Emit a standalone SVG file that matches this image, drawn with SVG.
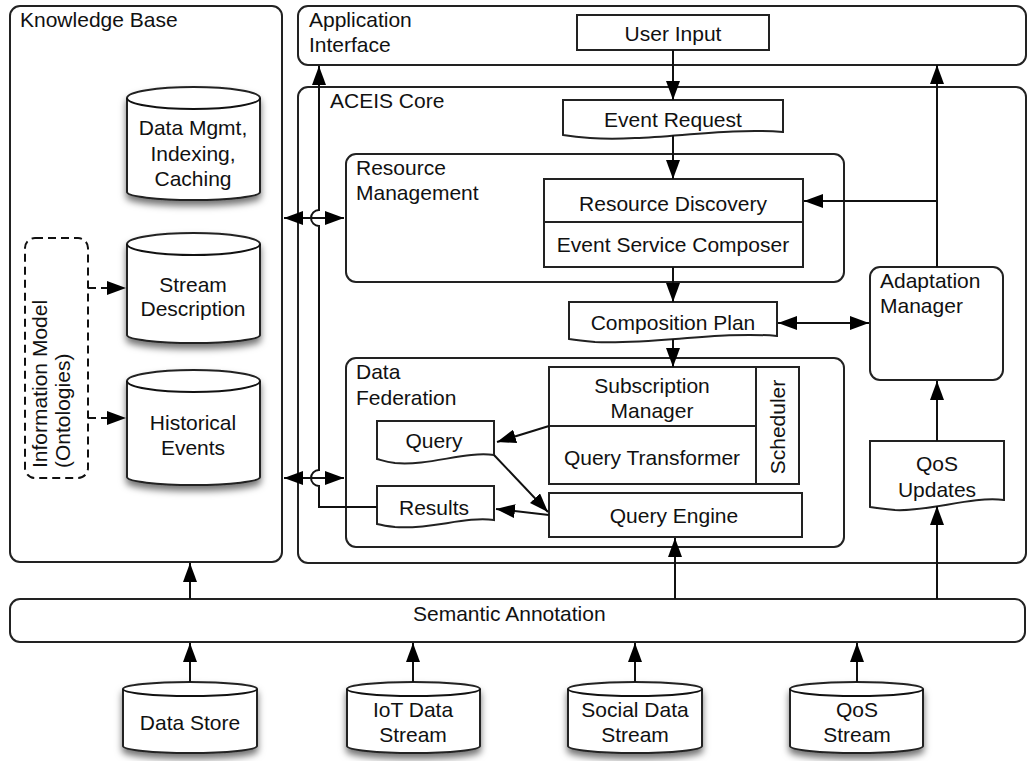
<svg xmlns="http://www.w3.org/2000/svg" width="1028" height="761" viewBox="0 0 1028 761">
<defs>
<marker id="ah" viewBox="0 0 19 14" refX="19" refY="7" markerWidth="19" markerHeight="14" markerUnits="userSpaceOnUse" orient="auto-start-reverse"><path d="M0,0 L19,7 L0,14 z" fill="#000"/></marker>
<filter id="sh" x="-20%" y="-20%" width="140%" height="150%"><feDropShadow dx="0" dy="5" stdDeviation="3.5" flood-color="#000" flood-opacity="0.55"/></filter>
</defs>
<style>
.b{fill:#fff;stroke:#222;stroke-width:2}
.c{fill:none;stroke:#111;stroke-width:2}
.a{marker-end:url(#ah)}
.d{marker-start:url(#ah);marker-end:url(#ah)}
.dash{fill:none;stroke:#111;stroke-width:2;stroke-dasharray:8 5}
text{font-family:"Liberation Sans",Arial,Helvetica,sans-serif;font-size:21px;fill:#111}
.m{text-anchor:middle}
</style>
<g id="knowledge-base">
<rect class="b" x="10" y="6" width="272" height="556" rx="10"/>
<text x="20" y="27">Knowledge Base</text>
</g>
<g id="application-interface">
<rect class="b" x="298" y="6" width="728" height="59" rx="10"/>
<text x="309" y="27">Application</text>
<text x="309" y="52">Interface</text>
</g>
<g id="aceis-core">
<rect class="b" x="298" y="87" width="728" height="476" rx="10"/>
<text x="330" y="108">ACEIS Core</text>
</g>
<g id="resource-management">
<rect class="b" x="346" y="154" width="498" height="128" rx="10"/>
<text x="356" y="175">Resource</text>
<text x="356" y="200">Management</text>
</g>
<g id="data-federation">
<rect class="b" x="346" y="358" width="498" height="189" rx="10"/>
<text x="356" y="379">Data</text>
<text x="356" y="405">Federation</text>
</g>
<g id="semantic-annotation">
<rect class="b" x="10" y="599" width="1015" height="43" rx="10"/>
<text x="413" y="621">Semantic Annotation</text>
</g>
<g id="user-input">
<rect class="b" x="577" y="15" width="192" height="35"/>
<text class="m" x="673" y="41">User Input</text>
</g>
<g id="event-request">
<path class="b" d="M563,100 H783 V132 C720,127 650,142 590,138 C578,137 570,136 563,135 Z"/>
<text class="m" x="673" y="127">Event Request</text>
</g>
<g id="resource-discovery">
<rect class="b" x="544" y="179" width="259" height="43"/>
<text class="m" x="673" y="211">Resource Discovery</text>
</g>
<g id="event-service-composer">
<rect class="b" x="544" y="222" width="259" height="45"/>
<text class="m" x="673" y="252">Event Service Composer</text>
</g>
<g id="composition-plan">
<path class="b" d="M569,302 H777 V336 C720,331 650,345 595,342 C583,341 575,340 569,339 Z"/>
<text class="m" x="673" y="330">Composition Plan</text>
</g>
<g id="subscription-manager">
<rect class="b" x="549" y="367" width="207" height="59"/>
<text class="m" x="652" y="393">Subscription</text>
<text class="m" x="652" y="418">Manager</text>
</g>
<g id="query-transformer">
<rect class="b" x="549" y="426" width="207" height="58"/>
<text class="m" x="652" y="465">Query Transformer</text>
</g>
<g id="scheduler">
<rect class="b" x="756" y="367" width="43" height="117"/>
<text class="m" transform="translate(785,427) rotate(-90)">Scheduler</text>
</g>
<g id="query-engine">
<rect class="b" x="549" y="493" width="253" height="44"/>
<text class="m" x="674" y="523">Query Engine</text>
</g>
<g id="query">
<path class="b" d="M377,421 H494 V455 C465,451 430,466 395,463 C386,462 381,460 377,459 Z"/>
<text class="m" x="434" y="448">Query</text>
</g>
<g id="results">
<path class="b" d="M377,486 H494 V520 C465,516 430,530 395,527 C386,526 381,525 377,524 Z"/>
<text class="m" x="434" y="515">Results</text>
</g>
<g id="adaptation-manager">
<rect class="b" x="870" y="267" width="133" height="113" rx="10"/>
<text x="880" y="288">Adaptation</text>
<text x="880" y="313">Manager</text>
</g>
<g id="qos-updates">
<path class="b" d="M870,441 H1004 V500 C970,496 930,512 895,510 C884,509 876,508 870,507 Z"/>
<text class="m" x="937" y="471">QoS</text>
<text class="m" x="937" y="497">Updates</text>
</g>
<g id="information-model">
<rect class="dash" x="25" y="238" width="63" height="240" rx="10"/>
<text transform="translate(47,468) rotate(-90)">Information Model</text>
<text transform="translate(70,468) rotate(-90)">(Ontologies)</text>
</g>
<g id="data-mgmt">
<path class="b" filter="url(#sh)" d="M127,98 A66.5,11 0 0 1 260,98 V192 A66.5,8 0 0 1 127,192 Z"/>
<path class="c" d="M127,98 A66.5,11 0 0 0 260,98"/>
<text class="m" x="193" y="135">Data Mgmt,</text>
<text class="m" x="193" y="161">Indexing,</text>
<text class="m" x="193" y="186">Caching</text>
</g>
<g id="stream-description">
<path class="b" filter="url(#sh)" d="M127,244 A66.5,11 0 0 1 260,244 V335 A66.5,8 0 0 1 127,335 Z"/>
<path class="c" d="M127,244 A66.5,11 0 0 0 260,244"/>
<text class="m" x="193" y="292">Stream</text>
<text class="m" x="193" y="316">Description</text>
</g>
<g id="historical-events">
<path class="b" filter="url(#sh)" d="M127,381 A66.5,11 0 0 1 260,381 V477 A66.5,8 0 0 1 127,477 Z"/>
<path class="c" d="M127,381 A66.5,11 0 0 0 260,381"/>
<text class="m" x="193" y="430">Historical</text>
<text class="m" x="193" y="455">Events</text>
</g>
<g id="data-store">
<path class="b" filter="url(#sh)" d="M123,689 A67,7 0 0 1 257,689 V746 A67,7 0 0 1 123,746 Z"/>
<path class="c" d="M123,689 A67,7 0 0 0 257,689"/>
<text class="m" x="190" y="730">Data Store</text>
</g>
<g id="iot-data-stream">
<path class="b" filter="url(#sh)" d="M347,689 A66.5,7 0 0 1 480,689 V746 A66.5,7 0 0 1 347,746 Z"/>
<path class="c" d="M347,689 A66.5,7 0 0 0 480,689"/>
<text class="m" x="413" y="717">IoT Data</text>
<text class="m" x="413" y="742">Stream</text>
</g>
<g id="social-data-stream">
<path class="b" filter="url(#sh)" d="M568,689 A67,7 0 0 1 702,689 V746 A67,7 0 0 1 568,746 Z"/>
<path class="c" d="M568,689 A67,7 0 0 0 702,689"/>
<text class="m" x="635" y="717">Social Data</text>
<text class="m" x="635" y="742">Stream</text>
</g>
<g id="qos-stream">
<path class="b" filter="url(#sh)" d="M790,689 A66.5,7 0 0 1 923,689 V746 A66.5,7 0 0 1 790,746 Z"/>
<path class="c" d="M790,689 A66.5,7 0 0 0 923,689"/>
<text class="m" x="857" y="717">QoS</text>
<text class="m" x="857" y="742">Stream</text>
</g>
<g id="connectors">
<path class="c a" d="M673,50 V100"/>
<path class="c a" d="M673,135 V179"/>
<path class="c a" d="M673,267 V302"/>
<path class="c a" d="M673,339 V367"/>
<path class="c a" d="M937,267 V65"/>
<path class="c a" d="M937,201 H804"/>
<path class="c d" d="M778,323 H869"/>
<path class="c a" d="M937,441 V381"/>
<path class="c a" d="M937,599 V506"/>
<path class="c a" d="M675,599 V538"/>
<path class="c a" d="M190,599 V563"/>
<path class="c a" d="M190,682 V643"/>
<path class="c a" d="M413,682 V643"/>
<path class="c a" d="M635,682 V643"/>
<path class="c a" d="M857,682 V643"/>
<path class="c a" d="M549,426 L497,442"/>
<path class="c a" d="M494,455 L548,512"/>
<path class="c a" d="M549,515 L496,509"/>
<path class="c a" d="M377,507 H319 V486 A8,8 0 0 1 319,470 V226 A8,8 0 0 1 319,210 V66"/>
<path class="c d" d="M284,218 H344"/>
<path class="c d" d="M284,478 H344"/>
<path class="dash a" d="M88,288 H126"/>
<path class="dash a" d="M88,418 H126"/>
</g>
</svg>
